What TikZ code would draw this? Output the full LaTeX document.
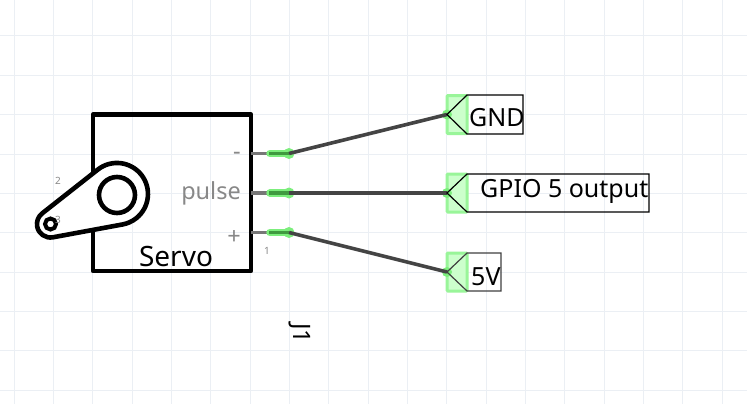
\documentclass[tikz,border=0pt]{standalone}
\usepackage{xcolor}
\usepackage{fontspec}
\setmainfont{Noto Sans}
\usetikzlibrary{positioning}

\definecolor{gridline}{HTML}{EBEFF4}
\definecolor{pingray}{HTML}{777777}
\definecolor{wiregray}{HTML}{444444}
\definecolor{labelgray}{HTML}{888888}
\definecolor{glowgreen}{HTML}{99F599}
\definecolor{padgreen}{HTML}{CCFFCC}
\definecolor{coregreen}{HTML}{3F9A3F}
\definecolor{pinglowgreen}{HTML}{7CEE7C}

\newcommand{\fontpx}[1]{\fontsize{#1}{#1}\selectfont}

\tikzset{
    frame/.style={draw=black, line width=4.6pt, line join=round},
    pinline/.style={draw=pingray, line width=3.4pt},
    pinglow/.style={draw=pinglowgreen, line width=7.5pt, line cap=round},
    pincore/.style={draw=coregreen, line width=3.4pt},
    wire/.style={draw=wiregray, line width=3.6pt},
    padbox/.style={draw=glowgreen, line width=3pt, fill=padgreen, rounded corners=1pt, minimum width=20pt, minimum height=38pt, inner sep=0pt},
    tagtext/.style={inner sep=0pt, anchor=base west, text=black, font=\fontpx{25}},
    pinname/.style={inner sep=0pt, text=labelgray, font=\fontpx{23.5}},
    pinnum/.style={inner sep=0pt, text=labelgray, font=\fontpx{10}}
}

\begin{document}
\begin{tikzpicture}[x=1pt, y=1pt]
    \useasboundingbox (0,0) rectangle (747,-404);
    \fill[white] (0,0) rectangle (747,-404);

    % Grid
    \foreach \i in {0,...,18} {
        \draw[gridline, line width=1pt] ({14+39.35*\i},0) -- ({14+39.35*\i},-404);
    }
    \foreach \j in {0,...,9} {
        \draw[gridline, line width=1pt] (0,{-36-39.35*\j}) -- (747,{-36-39.35*\j});
    }

    % Servo body
    \draw[frame] (93,-114.5) rectangle (251,-271);

    % Horn
    \draw[frame, fill=white] (97.8,-169.6) arc[start angle=128.2, end angle=-79.6, radius=31]
        -- (52.9,-237.3) arc[start angle=-79.6, end angle=-231.8, radius=13.5] -- cycle;
    \draw[black, line width=4.6pt] (117,-195) circle (18);
    \draw[black, line width=4pt] (50.5,-224) circle (5.5);

    % Pins
    \coordinate (S1) at (251,-153.5);
    \coordinate (S2) at (251,-193);
    \coordinate (S3) at (251,-232.5);
    \coordinate (P1) at (289,-153.5);
    \coordinate (P2) at (289,-193);
    \coordinate (P3) at (289,-232.5);
    \foreach \n in {1,2,3} {
        \draw[pinline] (S\n) -- (P\n);
        \draw[pinglow] ([xshift=-19pt]P\n) -- (P\n);
        \fill[pinglowgreen] (P\n) circle (5.5);
        \draw[pincore] ([xshift=-20pt]P\n) -- (P\n);
    }

    % Terminal pads
    \node[padbox] (GA) at (457,-114.5) {};
    \node[padbox] (GB) at (457,-193) {};
    \node[padbox] (GC) at (457,-272) {};
    \coordinate (T1) at (447,-114.5);
    \coordinate (T2) at (447,-193);
    \coordinate (T3) at (447,-272);
    \foreach \n in {1,2,3} {
        \fill[pinglowgreen] (T\n) circle (5);
    }

    % Wires
    \draw[wire] (P1) -- (T1);
    \draw[wire] (P2) -- (T2);
    \draw[wire] (P3) -- (T3);

    % Tags
    \draw[black, line width=1.2pt] (T1) -- (467,-95) -- (523,-95) -- (523,-134) -- (467,-134) -- cycle;
    \draw[black, line width=1.2pt] (T2) -- (467,-174) -- (649,-174) -- (649,-212) -- (467,-212) -- cycle;
    \draw[black!75, line width=1.2pt] (T3) -- (467,-253) -- (501,-253) -- (501,-291) -- (467,-291) -- cycle;
    \node[tagtext] (GND) at (469,-126) {GND};
    \node[tagtext] (GPIO) at (480,-197) {GPIO 5 output};
    \node[tagtext] (VCC) at (471,-285) {5V};

    % Labels
    \node[inner sep=0pt, anchor=base, font=\fontpx{28}] (Servo) at (176,-266) {Servo};
    \node[pinname, anchor=base east] (pulse) at (241,-199) {pulse};
    \node[pinname] (minus) at (237,-156) {-};
    \node[pinname] (plus) at (234,-238) {+};
    \node[pinnum] (n1) at (267,-251) {1};
    \node[pinnum] (n2) at (58,-181) {2};
    \node[pinnum] (n3) at (58,-220) {3};
    \node[inner sep=0pt, rotate=-90, font=\fontpx{24}] (J1) at (300,-333.5) {J1};
\end{tikzpicture}
\end{document}
